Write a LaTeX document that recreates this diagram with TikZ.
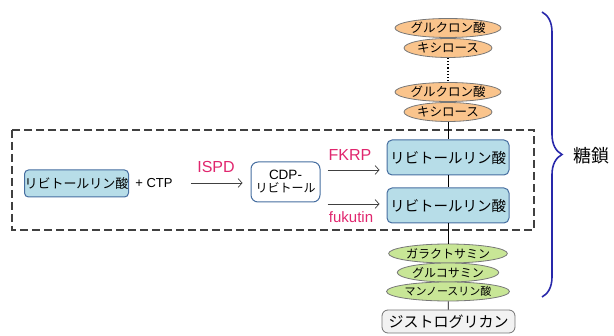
\documentclass[tikz,border=0pt]{standalone}
\usepackage{fontspec}
\setmainfont{Liberation Sans}
\newfontfamily\jp{Noto Sans CJK JP}
\usetikzlibrary{shapes.geometric,decorations.pathreplacing,arrows.meta}
\definecolor{orfill}{RGB}{250,196,140}
\definecolor{grfill}{RGB}{200,230,150}
\definecolor{blfill}{RGB}{183,221,232}
\definecolor{blline}{RGB}{70,110,160}
\definecolor{elline}{RGB}{120,120,120}
\definecolor{mag}{RGB}{224,38,110}
\definecolor{brace}{RGB}{40,40,170}
\begin{document}
\begin{tikzpicture}[x=1pt,y=-1pt,
  orel/.style={ellipse, draw=elline, fill=orfill, line width=0.8pt, minimum width=88pt, minimum height=19pt, inner sep=0pt, font=\jp\fontsize{12.5}{12.5}\selectfont},
  grel/.style={ellipse, draw=elline, fill=grfill, line width=0.8pt, minimum width=88pt, minimum height=19pt, inner sep=0pt, font=\jp\fontsize{12}{12}\selectfont},
  blbox/.style={rectangle, rounded corners=5pt, draw=blline, fill=blfill, line width=1pt, minimum width=122pt, minimum height=35pt, inner sep=0pt, font=\jp\fontsize{14.5}{15}\selectfont},
  arr/.style={-{Straight Barb[length=4pt,width=9pt]}, line width=0.7pt, black!75},
  enz/.style={text=mag, font=\fontsize{16}{16}\selectfont, inner sep=0pt},
  link/.style={line width=0.8pt, black}
]
\useasboundingbox (0,0) rectangle (614,336);
% dashed frame
\draw[dash pattern=on 8pt off 4pt, line width=1.2pt, black!75] (12,130) rectangle (534,230);
% sugar chain
\node[orel] (o1) at (448,28) {グルクロン酸};
\node[orel] (o2) at (448,48) {キシロース};
\node[orel] (o3) at (448,92) {グルクロン酸};
\node[orel] (o4) at (448,112) {キシロース};
\node[blbox] (b1) at (448,157.5) {リビトールリン酸};
\node[blbox] (b2) at (448,205.5) {リビトールリン酸};
\node[grel] (g1) at (448,253.5) {ガラクトサミン};
\node[grel] (g2) at (448,272.5) {グルコサミン};
\node[grel, font=\jp\fontsize{11}{11}\selectfont] (g3) at (448,291.5) {マンノースリン酸};
\node[rectangle, rounded corners=6pt, draw=black!55, fill=black!5, line width=0.8pt, minimum width=133pt, minimum height=23pt, inner sep=0pt, font=\jp\fontsize{15}{15}\selectfont] (dg) at (448.5,321.5) {ジストログリカン};
\draw[dotted, line width=1.2pt] (o2) -- (o3);
\draw[link] (o4) -- (b1);
\draw[link] (b1) -- (b2);
\draw[link] (b2) -- (g1);
\draw[link] (g3) -- (dg);
% synthesis
\node[rectangle, rounded corners=4pt, draw=blline, fill=blfill, line width=1pt, minimum width=101pt, minimum height=27pt, inner sep=0pt, font=\jp\fontsize{13}{13}\selectfont] (lb) at (76.5,183.5) {リビトールリン酸};
\node[inner sep=0pt, font=\fontsize{13}{13}\selectfont] (plus) at (154,183) {+ CTP};
\node[rectangle, rounded corners=7pt, draw=blline, fill=white, line width=1pt, minimum width=69pt, minimum height=40pt, inner sep=0pt, align=center, font=\fontsize{13.5}{14}\selectfont] (cdp) at (285.5,182) {CDP-\\[-1pt]{\jp\fontsize{12}{13}\selectfont リビトール}};
\draw[arr, shorten <=18pt, shorten >=8pt] (plus.east) -- (plus.east -| cdp.west);
\node[enz] (ispd) at (216,167) {ISPD};
\coordinate (f1) at ([xshift=7pt,yshift=12pt]cdp.east);
\coordinate (f2) at ([xshift=7pt,yshift=-22pt]cdp.east);
\draw[arr, shorten >=7pt] (f1) -- (f1 -| b1.west);
\draw[arr, shorten >=7pt] (f2) -- (f2 -| b2.west);
\node[enz] (fkrp) at (350,155) {FKRP};
\node[enz, font=\fontsize{15}{15}\selectfont] (fuk) at (351,217) {fukutin};
% brace
\coordinate (bt) at (542,12);
\coordinate (bb) at (542,297);
\draw[brace, line width=1.6pt, decorate, decoration={brace, amplitude=20pt, aspect=0.5}] (bt) -- (bb);
\node[font=\jp\fontsize{18}{18}\selectfont, inner sep=0pt] (tl) at (591,156) {糖鎖};
\end{tikzpicture}
\end{document}
